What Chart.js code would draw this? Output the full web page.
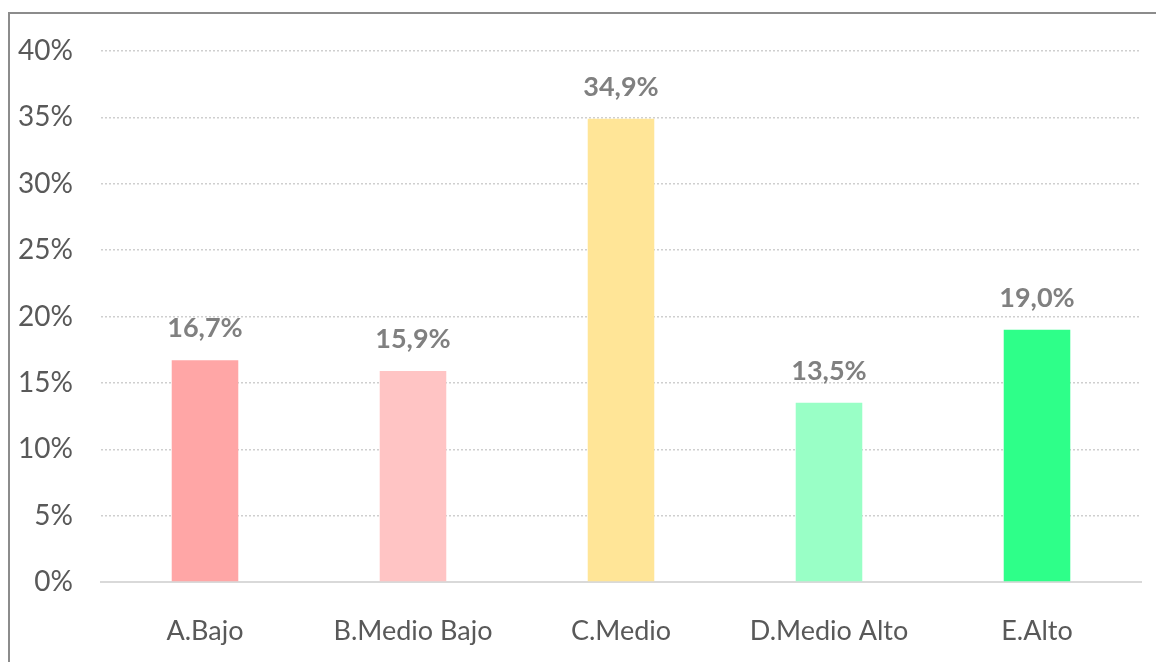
<!DOCTYPE html>
<html>
<head>
<meta charset="utf-8">
<script src="https://cdn.jsdelivr.net/npm/chart.js@4"></script>
<style>
  body { margin: 0; background: #fff; }
  #wrap { position: relative; width: 1156px; height: 662px; overflow: hidden; }
  #frame { position: absolute; left: 8px; top: 12px; width: 1200px; height: 700px; border: 2px solid #8c8c8c; box-sizing: border-box; }
  canvas { position: absolute; left: 0; top: 0; }
</style>
</head>
<body>
<div id="wrap">
  <div id="frame"></div>
  <canvas id="myChart" width="1156" height="662"></canvas>
</div>
<script>
// chart data
let categories = ["A.Bajo", "B.Medio Bajo", "C.Medio", "D.Medio Alto", "E.Alto"];
let values = [16.7, 15.9, 34.9, 13.5, 19.0];
let barColors = ["#FFA6A6", "#FFC4C4", "#FFE597", "#99FFC6", "#2EFF89"];
let yTicks = [0, 5, 10, 15, 20, 25, 30, 35, 40];

let fontFamily = "Lato, 'Noto Sans', sans-serif";

// draw the value over each bar
let valueLabels = {
  id: "valueLabels",
  afterDatasetsDraw(chart) {
    let ctx = chart.ctx;
    let meta = chart.getDatasetMeta(0);
    ctx.save();
    ctx.fillStyle = "#808080";
    ctx.font = "bold 27px " + fontFamily;
    ctx.textAlign = "center";
    ctx.textBaseline = "alphabetic";
    meta.data.forEach((bar, i) => {
      let txt = values[i].toFixed(1).replace(".", ",") + "%";
      ctx.fillText(txt, bar.x, bar.y - 23);
    });
    ctx.restore();
  }
};

let ctx = document.getElementById("myChart").getContext("2d");

let myChart = new Chart(ctx, {
  type: "bar",
  data: {
    labels: categories,
    datasets: [{
      data: values,
      backgroundColor: barColors,
      borderWidth: 0,
      barPercentage: 0.32,
      categoryPercentage: 1
    }]
  },
  options: {
    responsive: false,
    animation: false,
    layout: { padding: { left: 0, top: 51, right: 15, bottom: 0 } },
    plugins: {
      legend: { display: false },
      tooltip: { enabled: false }
    },
    scales: {
      x: {
        grid: { display: false, drawTicks: false },
        border: { display: true, color: "#d9d9d9", width: 2 },
        ticks: {
          color: "#595959",
          padding: 33,
          font: { family: fontFamily, size: 27 }
        },
        afterFit(scale) { scale.height = 80; }
      },
      y: {
        min: 0,
        max: 40,
        afterBuildTicks(scale) {
          scale.ticks = yTicks.map(v => ({ value: v }));
        },
        grid: {
          color: ctx => ctx.tick.value === 0 ? "rgba(0,0,0,0)" : "#cfcfcf",
          lineWidth: 1.5,
          drawTicks: false
        },
        border: { display: false, dash: [2, 2] },
        ticks: {
          color: "#595959",
          padding: 28,
          font: { family: fontFamily, size: 28 },
          callback: v => v + "%"
        },
        afterFit(scale) { scale.width = 101; }
      }
    }
  },
  plugins: [valueLabels]
});
</script>
</body>
</html>
